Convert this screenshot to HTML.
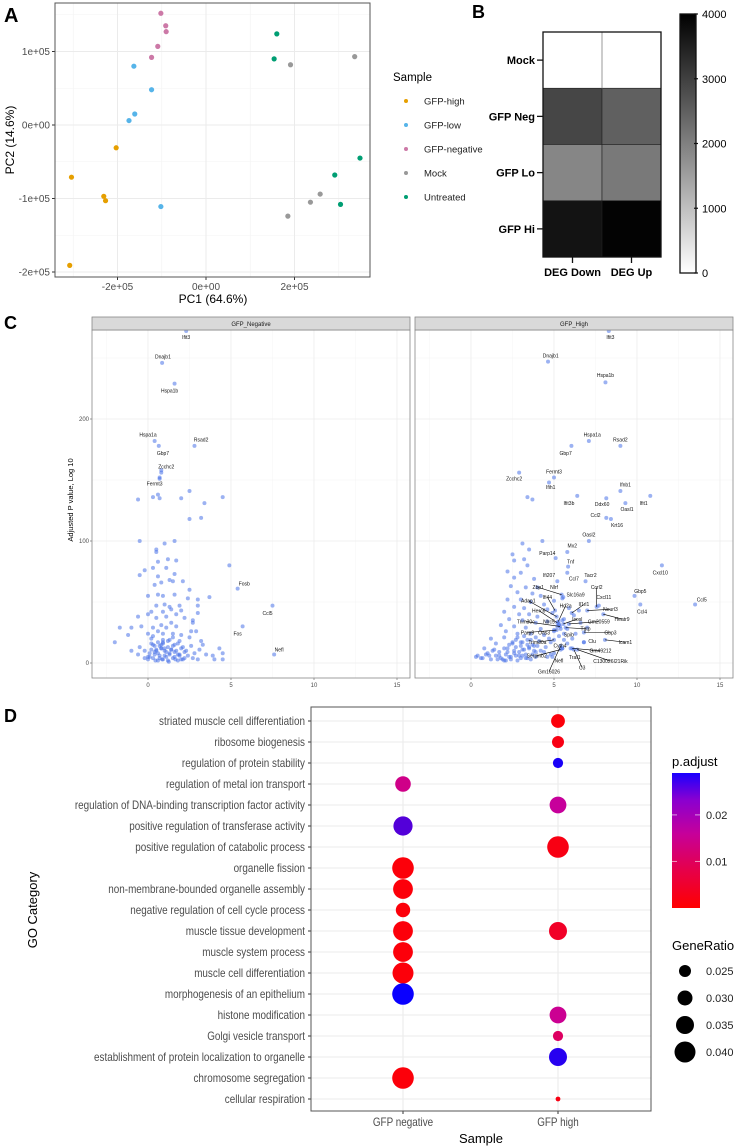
<!DOCTYPE html>
<html><head><meta charset="utf-8"><style>
html,body{margin:0;padding:0;background:#fff;}
svg{display:block;font-family:"Liberation Sans",sans-serif;}
</style></head><body>
<svg id="fig" width="741" height="1147" viewBox="0 0 741 1147" xmlns="http://www.w3.org/2000/svg">
<rect width="741" height="1147" fill="#fff"/>
<text x="4" y="22" font-size="20" font-weight="bold">A</text>
<text x="472" y="18" font-size="18" font-weight="bold">B</text>
<text x="4" y="329" font-size="18" font-weight="bold">C</text>
<text x="4" y="722" font-size="18" font-weight="bold">D</text>
<g id="pa"></g>
<g id="pb"></g>
<g id="pc"></g>
<g id="pd"></g>
</svg>
<script>
// ---------- Panel A data ----------
const pcaGroups = ["GFP-high","GFP-low","GFP-negative","Mock","Untreated"];
const pcaColors = ["#E69F00","#56B4E9","#CC79A7","#999999","#009E73"];
const pcaPC1 = [[-2.03e5,-3.04e5,-2.31e5,-2.27e5,-3.08e5],[-1.63e5,-1.23e5,-1.61e5,-1.74e5,-1.02e5],[-1.02e5,-0.91e5,-0.90e5,-1.09e5,-1.23e5],[1.91e5,3.36e5,2.58e5,2.36e5,1.85e5],[1.60e5,1.54e5,3.48e5,2.91e5,3.04e5]];
const pcaPC2 = [[-0.31e5,-0.71e5,-0.97e5,-1.03e5,-1.91e5],[0.80e5,0.48e5,0.15e5,0.06e5,-1.11e5],[1.52e5,1.35e5,1.27e5,1.07e5,0.92e5],[0.82e5,0.93e5,-0.94e5,-1.05e5,-1.24e5],[1.24e5,0.90e5,-0.45e5,-0.68e5,-1.08e5]];
const pcaXTicks = [-2e5,0,2e5];
const pcaXTickLabels = ["-2e+05","0e+00","2e+05"];
const pcaYTicks = [1e5,0,-1e5,-2e5];
const pcaYTickLabels = ["1e+05","0e+00","-1e+05","-2e+05"];
// ---------- Panel B data ----------
const hmRows = ["Mock","GFP Neg","GFP Lo","GFP Hi"];
const hmCols = ["DEG Down","DEG Up"];
const hmDown = [0,2900,1900,3700];
const hmUp = [0,2500,2100,3950];
const hmTicks = [0,1000,2000,3000,4000];
// ---------- Panel C data ----------
const cXTicks = [0,5,10,15];
const cYTicks = [0,100,200];
const negFC = [-0.6,0.3,0.6,0.7,2.0,2.5,3.4,4.5,2.5,3.2,4.9,0.7,0.8,-0.5,1.6,1.0,0.5,0.5,1.2,1.7,0.6,0.3,1.1,-0.2,0.6,1.6,-0.5,1.3,0.8,1.5,2.1,0.4,2.5,0.0,0.6,0.9,1.6,2.4,3.0,3.7,0.5,1.0,1.3,1.9,3.0,0.2,0.9,1.4,1.7,2.0,3.0,-0.6,0.0,0.5,1.1,2.2,2.7,1.4,2.7,0.8,-0.4,0.3,1.1,1.7,-1.7,-1.0,-1.2,0.0,0.6,0.9,1.5,2.0,2.6,2.9,-2.0,0.2,0.9,1.3,1.9,2.5,3.2,-0.5,0.4,0.8,1.2,1.6,2.1,2.6,3.3,-1.0,-0.2,0.1,0.5,0.7,1.0,1.3,1.6,1.9,2.3,2.8,3.1,3.5,3.9,4.3,4.5,0.3,0.9,1.5,2.1,2.7,4.0,4.5,-0.6,-0.2,0.6,1.2,1.8,2.4,3.0,0.4,0.8,1.1,0.2,0.6,1.4,0.9,1.8,2.2,0.0,0.7,1.5,2.0,1.0,0.3,0.1,0.4,0.7,1.0,1.3,1.6,1.9,2.2,0.2,0.5,0.8,1.1,1.4,1.7,2.0,0.3,0.6,0.9,1.2,1.5,1.8,0.0,0.45,0.85,1.25,1.65];
const negP = [134,136,138,135,135,141,131,136,118,119,80,151,158,100,100,98,93,91,85,84,83,78,78,76,71,73,72,68,66,67,67,64,60,55,56,55,56,53,52,54,47,48,46,47,47,42,42,44,40,43,41,38,40,37,38,37,35,33,33,31,30,29,29,30,29,29,23,24,26,24,24,23,26,26,17,20,19,19,18,21,18,13,14,15,13,15,13,14,15,10,10,8,11,6,10,7,9,6,10,8,11,7,6,12,8,4,3,4,3,4,3,3,7,4,2,2,2,6,3,9,12,5,16,8,11,17,7,9,5,14,21,3,12,22,5,7,4,6,8,5,7,4,11,10,12,9,11,10,12,15,17,16,18,14,16,3,2,3,1,3];
const negLabels = ["Ifit3","Dnajb1","Hspa1b","Hspa1a","Gbp7","Rsad2","Zcchc2","Fermt3","Fosb","Ccl5","Fos","Nefl"];
const negLabFC = [2.3,0.85,1.6,0.4,0.65,2.8,0.8,0.7,5.4,7.5,5.7,7.6];
const negLabP = [273,246,229,182,178,178,156,152,61,47,30,7];
const negTxtFC = [2.3,0.9,1.3,0.0,0.9,3.2,1.1,0.4,5.8,7.2,5.4,7.9];
const negTxtP = [267,251,223,187,172,183,161,147,65,41,24,11];
const hiFC = [3.4,3.7,3.1,4.3,3.5,2.5,2.6,3.2,3.4,2.2,3.0,2.6,3.8,4.0,3.3,2.4,2.8,3.7,4.2,2.2,3.0,3.6,4.4,5.0,2.6,3.2,4.6,2.0,2.9,3.5,4.0,4.9,6.2,2.3,3.1,3.9,4.6,5.5,6.6,1.8,2.6,3.3,4.2,5.0,5.8,7.0,2.1,2.8,3.6,4.4,5.3,6.3,1.2,2.0,2.7,3.4,4.1,4.8,5.8,1.5,2.3,3.0,3.7,4.5,5.5,0.8,1.4,2.0,2.6,3.2,3.8,4.4,5.0,0.4,0.9,1.5,2.1,2.7,3.3,3.9,4.6,0.6,1.2,1.8,2.4,3.0,3.6,1.0,2.9,3.5,2.2,1.7,4.0,3.1,2.5,4.7,3.9,5.6,5.2,5.3,5.4,5.6,6.1,6.8,5.9,6.5,0.3,0.7,1.1,1.6,2.3,2.8,3.4,2.0,2.6,3.1,1.3,1.9,2.4,2.9,3.3,3.7,2.2,2.7,3.1,3.5,3.9,2.5,3.0,3.4,3.8,2.8,3.2,3.6,1.7,2.1,4.2,4.8];
const hiP = [136,134,98,100,93,89,84,85,80,75,74,70,69,62,62,63,58,57,55,52,52,50,48,51,46,45,44,42,40,40,38,41,39,36,35,33,34,35,33,31,30,29,28,27,28,29,26,24,24,23,22,24,20,21,19,19,18,17,16,16,15,14,15,13,12,12,11,12,10,11,10,9,8,6,7,6,7,6,7,5,5,4,3,4,3,4,3,8,9,12,9,9,14,17,17,20,21,24,30,32,28,36,20,17,45,43,5,4,6,3,5,2,4,2,8,6,10,3,5,6,4,7,12,13,11,13,9,16,17,15,14,21,22,19,6,2,10,7];
const hiLabels = ["Ifit3","Dnajb1","Hspa1b","Hspa1a","Rsad2","Gbp7","Zcchc2","Fermt3","Ifih1","Ifnb1","Ifit3b","Ddx60","Ifit1","Oasl1","Ccl2","Krt16","Oasl2","Mx2","Parp14","Tnf","Cxcl10","Ifi207","Ccl7","Tacr2","Gbp5","Ccl4","Ccl5","Zbp1","Nlrf","Slc16a9","Ifi44","Adap1","Hd2a","Il1rl1","Ccrl2","Cxcl11","Neurl3","Herc6","Heatr9","Icosl","Gm20559","Trim30c","Nlrc5","Tgtp","Gbp3","Parp9","Oas3","Spib","Clu","Icam1","Trim30a","Cyth4","Gm49212","Serpinb2","Traf1","Nefl","C130026I21Rik","C3","Gm16026"];
const hiLabFC = [8.3,4.64,8.1,7.1,9.0,6.05,2.9,5.0,4.7,9.0,6.4,8.15,10.8,9.3,8.15,8.43,7.1,5.8,5.1,5.85,11.5,5.2,5.8,6.9,9.85,10.2,13.5,5.46,5.56,5.5,5.06,5.16,5.26,6.07,7.57,7.7,7.0,5.2,7.97,5.56,5.9,5.36,5.3,5.7,6.8,5.16,5.0,5.6,6.8,8.07,5.0,4.9,6.1,5.4,6.0,5.5,6.4,6.2,5.4];
const hiLabP = [273,247,230,182,178,178,156,152,148,141,137,135,137,131,119,118,100,91,86,79,80,67,74,67,55,48,48,56,54,53,43,38,34,41,46,47,43,33,40,32,32,30,31,29,25,27,26,19,17,19,19,5,12,11,12,12,11,11,14];
const hiTxtFC = [8.4,4.8,8.1,7.3,9.0,5.7,2.6,5.0,4.8,9.3,5.9,7.9,10.4,9.4,7.5,8.8,7.1,6.1,4.6,6.0,11.4,4.7,6.2,7.2,10.2,10.3,13.9,4.05,5.0,6.3,4.6,3.45,5.7,6.8,7.57,8.0,8.4,4.08,9.1,6.4,7.7,3.3,4.7,6.9,8.4,3.4,4.4,5.9,7.3,9.3,4.0,5.36,7.8,3.96,6.25,5.3,8.4,6.7,4.7];
const hiTxtP = [267,252,236,187,183,172,151,157,144,146,131,130,131,126,121,113,105,96,90,83,74,72,69,72,59,42,52,62,62,56,54,51,47,48,62,54,44,43,36,36,34,34,34,28,25,25,25,23,18,17,17,14,10,6,4.6,2,1.6,-4,-7];
// ---------- Panel D data ----------
const goTerms = ["striated muscle cell differentiation","ribosome biogenesis","regulation of protein stability","regulation of metal ion transport","regulation of DNA-binding transcription factor activity","positive regulation of transferase activity","positive regulation of catabolic process","organelle fission","non-membrane-bounded organelle assembly","negative regulation of cell cycle process","muscle tissue development","muscle system process","muscle cell differentiation","morphogenesis of an epithelium","histone modification","Golgi vesicle transport","establishment of protein localization to organelle","chromosome segregation","cellular respiration"];
const goSamples = ["GFP negative","GFP high"];
const goNegRatio = [null,null,null,0.031,null,0.037,null,0.041,0.038,0.029,0.038,0.038,0.040,0.041,null,null,null,0.041,null];
const goNegPadj = [null,null,null,0.014,null,0.024,null,0.001,0.001,0.001,0.001,0.001,0.001,0.029,null,null,null,0.001,null];
const goHighRatio = [0.028,0.025,0.022,null,0.033,null,0.041,null,null,null,0.035,null,null,null,0.033,0.022,0.035,null,0.013];
const goHighPadj = [0.001,0.002,0.028,null,0.016,null,0.002,null,null,null,0.004,null,null,null,0.015,0.010,0.027,null,0.002];
const padjTicks = [0.01,0.02];
const ratioTicks = [0.025,0.030,0.035,0.040];

const NS="http://www.w3.org/2000/svg";
function mk(parent,tag,attrs,text){const e=document.createElementNS(NS,tag);for(const k in attrs)e.setAttribute(k,attrs[k]);if(text!==undefined)e.textContent=text;parent.appendChild(e);return e;}

// ===== Panel A =====
(function(){
const g=document.getElementById('pa');
const L=55,R=370,T=3,B=277;
const ax=v=>206+v/2e5*88.5, ay=v=>125-v/1e5*73.5;
mk(g,'rect',{x:L,y:T,width:R-L,height:B-T,fill:'#fff'});
[-3e5,-1e5,1e5,3e5].forEach(v=>{const x=ax(v);if(x>L&&x<R)mk(g,'line',{x1:x,x2:x,y1:T,y2:B,stroke:'#f3f3f3','stroke-width':0.6});});
[1.5e5,0.5e5,-0.5e5,-1.5e5].forEach(v=>mk(g,'line',{x1:L,x2:R,y1:ay(v),y2:ay(v),stroke:'#f3f3f3','stroke-width':0.6}));
pcaXTicks.forEach((v,i)=>{const x=ax(v);mk(g,'line',{x1:x,x2:x,y1:T,y2:B,stroke:'#ebebeb','stroke-width':1});
 mk(g,'line',{x1:x,x2:x,y1:B,y2:B+3,stroke:'#333'});
 const t=mk(g,'text',{x:x,y:B+13,'font-size':10,fill:'#4d4d4d','text-anchor':'middle'},pcaXTickLabels[i]);
 
 });
pcaYTicks.forEach((v,i)=>{const y=ay(v);mk(g,'line',{x1:L,x2:R,y1:y,y2:y,stroke:'#ebebeb','stroke-width':1});
 mk(g,'line',{x1:L-3,x2:L,y1:y,y2:y,stroke:'#333'});
 const t=mk(g,'text',{x:L-5,y:y+3.5,'font-size':10,fill:'#4d4d4d','text-anchor':'end'},pcaYTickLabels[i]);
 
 });
pcaGroups.forEach((gname,gi)=>{pcaPC1[gi].forEach((v,j)=>{const c=mk(g,'circle',{cx:ax(v),cy:ay(pcaPC2[gi][j]),r:2.6,fill:pcaColors[gi]});
 
 });});
mk(g,'rect',{x:L,y:T,width:R-L,height:B-T,fill:'none',stroke:'#555','stroke-width':1});
let t=mk(g,'text',{x:213,y:303,'font-size':12,'text-anchor':'middle'},'PC1 (64.6%)');


t=mk(g,'text',{x:0,y:0,'font-size':12,'text-anchor':'middle',transform:'translate(14,140) rotate(-90)'},'PC2 (14.6%)');


t=mk(g,'text',{x:393,y:81,'font-size':11.5},'Sample');


pcaGroups.forEach((gname,gi)=>{const y=101+gi*24;
 const le=mk(g,'g',{});
 
 
 mk(le,'circle',{cx:406,cy:y,r:2,fill:pcaColors[gi]});
 mk(le,'text',{x:424,y:y+3.5,'font-size':9.5,fill:'#222'},gname);});
})();

// ===== Panel B =====
(function(){
const g=document.getElementById('pb');
const L=543,R=661,T=32,B=257,rh=(B-T)/hmRows.length,cw=(R-L)/2;
const gray=v=>{const c=Math.round(255*(1-v/4000));return `rgb(${c},${c},${c})`;};
hmRows.forEach((r,i)=>{[hmDown[i],hmUp[i]].forEach((v,j)=>{const c=mk(g,'rect',{x:L+j*cw,y:T+i*rh,width:cw,height:rh,fill:gray(v),stroke:'#222','stroke-width':0.6});
 
 });
 const y=T+i*rh+rh/2;
 mk(g,'line',{x1:537,x2:543,y1:y,y2:y,stroke:'#111','stroke-width':1.3});
 const t=mk(g,'text',{x:535,y:y+4,'font-size':11,'font-weight':'bold','text-anchor':'end'},r);
 
 });
mk(g,'line',{x1:L+cw,x2:L+cw,y1:T,y2:T+rh,stroke:'#999','stroke-width':1});
mk(g,'rect',{x:L,y:T,width:R-L,height:B-T,fill:'none',stroke:'#111','stroke-width':1.3});
hmCols.forEach((c,j)=>{const x=L+cw*j+cw/2;mk(g,'line',{x1:x,x2:x,y1:B,y2:B+6,stroke:'#111','stroke-width':1.3});
 const t=mk(g,'text',{x:x,y:276,'font-size':11,'font-weight':'bold','text-anchor':'middle'},c);
 
 });
const defs=mk(g,'defs',{});const lg=mk(defs,'linearGradient',{id:'gb',x1:0,y1:1,x2:0,y2:0});
mk(lg,'stop',{offset:0,'stop-color':'#fff'});mk(lg,'stop',{offset:1,'stop-color':'#000'});
const cb=mk(g,'rect',{x:680,y:14,width:16,height:259,fill:'url(#gb)',stroke:'#111','stroke-width':1.3});


hmTicks.forEach(v=>{const y=273-v/4000*259;mk(g,'line',{x1:694,x2:698,y1:y,y2:y,stroke:'#111','stroke-width':1.2});
 const t=mk(g,'text',{x:702,y:y+4,'font-size':11},String(v));
 
 });
})();

// ===== Panel C =====
(function(){
const g=document.getElementById('pc');
const sy=v=>663-v*1.22;
const facets=[{L:92,R:410,z:148,name:'GFP_Negative',fc:negFC,p:negP,lab:negLabels,lfc:negLabFC,lp:negLabP,tfc:negTxtFC,tp:negTxtP},
 {L:415,R:733,z:471,name:'GFP_High',fc:hiFC,p:hiP,lab:hiLabels,lfc:hiLabFC,lp:hiLabP,tfc:hiTxtFC,tp:hiTxtP}];
const T=330,B=678;
facets.forEach((f,fi)=>{
 const sx=v=>f.z+v*16.6;
 const fg=mk(g,'g',{});
 
 
 mk(fg,'rect',{x:f.L,y:T,width:f.R-f.L,height:B-T,fill:'#fff'});
 [-2.5,2.5,7.5,12.5].forEach(v=>{const x=sx(v);if(x>f.L)mk(fg,'line',{x1:x,x2:x,y1:T,y2:B,stroke:'#f4f4f4','stroke-width':0.5});});
 [50,150,250].forEach(v=>mk(fg,'line',{x1:f.L,x2:f.R,y1:sy(v),y2:sy(v),stroke:'#f4f4f4','stroke-width':0.5}));
 cXTicks.forEach(v=>{const x=sx(v);mk(fg,'line',{x1:x,x2:x,y1:T,y2:B,stroke:'#ececec','stroke-width':0.8});
  mk(fg,'line',{x1:x,x2:x,y1:B,y2:B+2,stroke:'#555','stroke-width':0.6});
  const t=mk(fg,'text',{x:x,y:B+9,'font-size':6,fill:'#4d4d4d','text-anchor':'middle'},String(v));
  
  });
 cYTicks.forEach(v=>{const y=sy(v);mk(fg,'line',{x1:f.L,x2:f.R,y1:y,y2:y,stroke:'#ececec','stroke-width':0.8});
  if(fi===0){mk(fg,'line',{x1:f.L-2,x2:f.L,y1:y,y2:y,stroke:'#555','stroke-width':0.6});
  const t=mk(fg,'text',{x:f.L-3,y:y+2,'font-size':6,fill:'#4d4d4d','text-anchor':'end'},String(v));
  
  }});
 const pts=mk(fg,'g',{});
 f.fc.forEach((v,i)=>{const y=sy(f.p[i]);if(y<T)return;const c=mk(pts,'circle',{cx:sx(v),cy:y,r:2,fill:'#4a72e8','fill-opacity':0.55});
  
  });
 f.lab.forEach((n,i)=>{const px=sx(f.lfc[i]),py=Math.max(T+1,sy(f.lp[i]));const tx=sx(f.tfc[i]),ty=sy(f.tp[i]);
  const c=mk(pts,'circle',{cx:px,cy:py,r:2,fill:'#4a72e8','fill-opacity':0.55});
  
  
  if(Math.hypot(tx-px,ty-py)>14)mk(fg,'line',{x1:tx,y1:ty,x2:px,y2:py,stroke:'#000','stroke-width':0.6});
  const t=mk(fg,'text',{x:tx,y:ty+1.8,'font-size':5,fill:'#111','text-anchor':'middle'},n);
  
  });
 mk(fg,'rect',{x:f.L,y:T,width:f.R-f.L,height:B-T,fill:'none',stroke:'#888','stroke-width':0.8});
 mk(fg,'rect',{x:f.L,y:317,width:f.R-f.L,height:13,fill:'#d9d9d9',stroke:'#888','stroke-width':0.8});
 const st=mk(fg,'text',{x:(f.L+f.R)/2,y:326,'font-size':6,fill:'#1a1a1a','text-anchor':'middle'},f.name);
 
 
});
let t=mk(g,'text',{x:0,y:0,'font-size':7.5,'text-anchor':'middle',transform:'translate(73,500) rotate(-90)'},'Adjusted P value, Log 10');


t=mk(g,'text',{x:412,y:695,'font-size':7.5,'text-anchor':'middle'},'Fold Change, Log 2');


mk(g,'rect',{x:300,y:687,width:240,height:12,fill:'#fff'});
})();

// ===== Panel D =====
(function(){
const g=document.getElementById('pd');
const L=311,R=651,T=707,B=1111;
const colX=[403,558];
const ry=i=>721+i*21;
const rad=v=>6+(v-0.025)*300;
function pcol(p){const t=Math.min(1,Math.max(0,p/0.029));let r,b;
 if(t<0.55){const u=t/0.55;r=255-(255-200)*u;b=155*u;}else{const u=(t-0.55)/0.45;r=200-190*u;b=155+100*u;}
 return `rgb(${Math.round(r)},0,${Math.round(b)})`;}
mk(g,'rect',{x:L,y:T,width:R-L,height:B-T,fill:'#fff'});
goTerms.forEach((n,i)=>{mk(g,'line',{x1:L,x2:R,y1:ry(i),y2:ry(i),stroke:'#ebebeb','stroke-width':1.1});
 mk(g,'line',{x1:L-3,x2:L,y1:ry(i),y2:ry(i),stroke:'#333'});
 const t=mk(g,'text',{x:0,y:0,'font-size':11.5,fill:'#4d4d4d','text-anchor':'end',transform:`translate(305,${ry(i)+4}) scale(0.86,1)`},n);
 
 });
goSamples.forEach((s,j)=>{mk(g,'line',{x1:colX[j],x2:colX[j],y1:T,y2:B,stroke:'#ebebeb','stroke-width':1.1});
 mk(g,'line',{x1:colX[j],x2:colX[j],y1:B,y2:B+3,stroke:'#333'});
 const t=mk(g,'text',{x:0,y:0,'font-size':11.5,fill:'#4d4d4d','text-anchor':'middle',transform:`translate(${colX[j]},1126) scale(0.86,1)`},s);
 
 });
[[goNegRatio,goNegPadj],[goHighRatio,goHighPadj]].forEach((arr,j)=>{arr[0].forEach((v,i)=>{if(v===null)return;
 const c=mk(g,'circle',{cx:colX[j],cy:ry(i),r:rad(v),fill:pcol(arr[1][i])});
 
 });});
mk(g,'rect',{x:L,y:T,width:R-L,height:B-T,fill:'none',stroke:'#555','stroke-width':1});
let t=mk(g,'text',{x:481,y:1143,'font-size':13,'text-anchor':'middle'},'Sample');


t=mk(g,'text',{x:0,y:0,'font-size':13,'text-anchor':'middle',transform:'translate(37,910) rotate(-90)'},'GO Category');


t=mk(g,'text',{x:672,y:766,'font-size':13},'p.adjust');


const defs=mk(g,'defs',{});const lg=mk(defs,'linearGradient',{id:'gd',x1:0,y1:1,x2:0,y2:0});
[[0,'#ff0000'],[0.3,'#e4004f'],[0.55,'#c6009a'],[0.8,'#8a00d0'],[1,'#1a00ff']].forEach(s=>mk(lg,'stop',{offset:s[0],'stop-color':s[1]}));
const cb=mk(g,'rect',{x:672,y:773,width:28,height:135,fill:'url(#gd)'});


padjTicks.forEach(v=>{const y=908-v/0.029*135;mk(g,'line',{x1:672,x2:677,y1:y,y2:y,stroke:'#fff','stroke-opacity':0.6});mk(g,'line',{x1:695,x2:700,y1:y,y2:y,stroke:'#fff','stroke-opacity':0.6});
 const tt=mk(g,'text',{x:706,y:y+4,'font-size':11,fill:'#222'},String(v));
 
 });
t=mk(g,'text',{x:672,y:950,'font-size':13},'GeneRatio');


ratioTicks.forEach((v,i)=>{const y=971+i*27;
 const le=mk(g,'g',{});
 
 
 mk(le,'circle',{cx:685,cy:y,r:rad(v),fill:'#000'});
 mk(le,'text',{x:706,y:y+4,'font-size':11,fill:'#222'},v.toFixed(3));});
})();
</script>
</body></html>
